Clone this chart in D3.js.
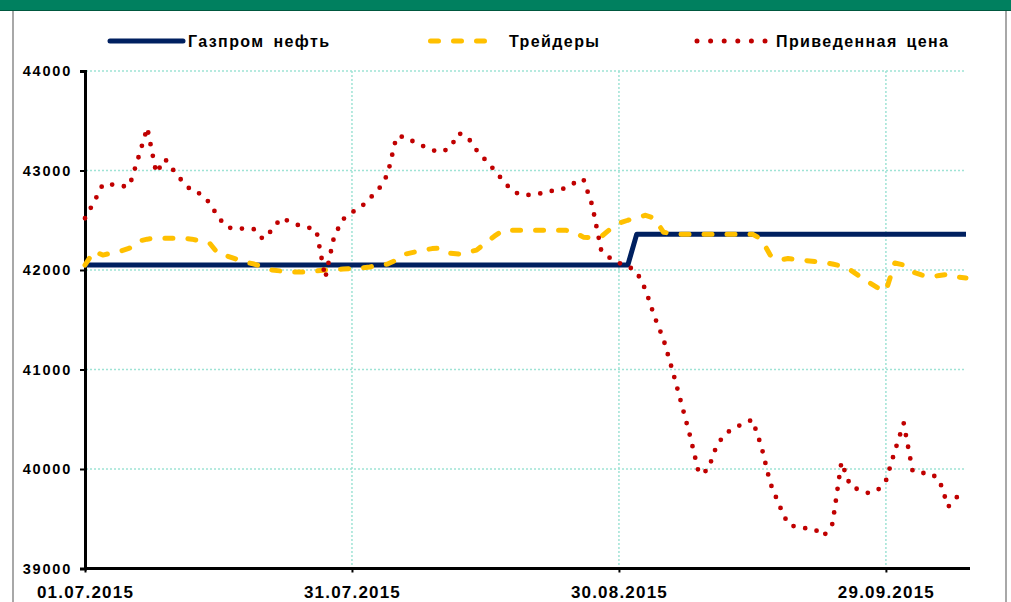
<!DOCTYPE html>
<html lang="ru">
  <head>
    <meta charset="UTF-8" />
    <title>Газпром нефть — Трейдеры — Приведенная цена</title>
    <script src="https://d3js.org/d3.v7.min.js"></script>
    <style>
      body {
        margin: 0;
        padding: 0;
        background: #fff;
      }
      svg {
        display: block;
        font-family: "Liberation Sans", Arial, sans-serif;
        font-weight: bold;
      }
      .tick-label {
        font-size: 14.5px;
        letter-spacing: 1.8px;
        fill: #000;
      }
      .date-label {
        font-size: 17px;
        letter-spacing: 1.2px;
        fill: #000;
      }
      .legend-label {
        font-size: 16px;
        letter-spacing: 1.4px;
        word-spacing: 3px;
        fill: #000;
      }
    </style>
  </head>
  <body>
    <svg width="1011" height="602"></svg>
    <script>
      const width = 1011,
        height = 602;
      const svg = d3.select("svg");

      // daily series starting 01.07.2015
      const startDate = new Date(2015, 6, 1);

      const gazpromNeft = [
        42050, 42050, 42050, 42050, 42050, 42050, 42050, 42050, 42050, 42050,
        42050, 42050, 42050, 42050, 42050, 42050, 42050, 42050, 42050, 42050,
        42050, 42050, 42050, 42050, 42050, 42050, 42050, 42050, 42050, 42050,
        42050, 42050, 42050, 42050, 42050, 42050, 42050, 42050, 42050, 42050,
        42050, 42050, 42050, 42050, 42050, 42050, 42050, 42050, 42050, 42050,
        42050, 42050, 42050, 42050, 42050, 42050, 42050, 42050, 42050, 42050,
        42050, 42050, 42360, 42360, 42360, 42360, 42360, 42360, 42360, 42360,
        42360, 42360, 42360, 42360, 42360, 42360, 42360, 42360, 42360, 42360,
        42360, 42360, 42360, 42360, 42360, 42360, 42360, 42360, 42360, 42360,
        42360, 42360, 42360, 42360, 42360, 42360, 42360, 42360, 42360, 42360,
      ];

      const traders = [
        42050, 42190, 42150, 42170, 42190, 42220, 42290, 42310, 42320, 42320,
        42320, 42320, 42310, 42290, 42270, 42160, 42140, 42110, 42080, 42060,
        42030, 42000, 41990, 41980, 41980, 41980, 41990, 42000, 42005, 42010,
        42015, 42020, 42030, 42050, 42060, 42100, 42160, 42180, 42200, 42215,
        42220, 42170, 42160, 42180, 42200, 42270, 42340, 42400, 42400, 42400,
        42400, 42400, 42400, 42400, 42400, 42380, 42330, 42325, 42335, 42410,
        42470, 42500, 42525, 42550, 42520, 42380, 42365, 42360, 42360, 42360,
        42360, 42360, 42360, 42360, 42360, 42360, 42310, 42150, 42100, 42115,
        42105, 42095, 42085, 42075, 42060, 42040, 42000, 41940, 41880, 41825,
        41790, 42070, 42050, 41980, 41950, 41930, 41945, 41955, 41930, 41920,
      ];

      const reducedPrice = [
        42520, 42680, 42860, 42860, 42840, 42845, 43130, 43430, 42975, 43115,
        42995, 42885, 42795, 42765, 42675, 42525, 42430, 42410, 42420, 42410,
        42310, 42400, 42520, 42490, 42450, 42430, 42400, 41920, 42340, 42510,
        42580, 42630, 42720, 42810, 42960, 43340, 43340, 43285, 43245, 43205,
        43185, 43225, 43375, 43335, 43205, 43105, 43005, 42895, 42795, 42755,
        42755, 42765, 42795, 42795, 42825, 42875, 42915, 42650, 42200, 42120,
        42070, 42040, 41980, 41800, 41530, 41305, 40995, 40665, 40330, 39950,
        39990, 40240, 40360, 40410, 40460, 40495, 40230, 39860, 39640, 39445,
        39415, 39405, 39395, 39325, 39450, 40070, 39830, 39790, 39760, 39780,
        39880, 40180, 40460, 39980, 39960, 39960, 39890, 39620, 39720,
      ];

      const yTicks = [39000, 40000, 41000, 42000, 43000, 44000];
      const xTickDates = [
        new Date(2015, 6, 1),
        new Date(2015, 6, 31),
        new Date(2015, 7, 30),
        new Date(2015, 8, 29),
      ];

      const seriesNames = ["Газпром нефть", "Трейдеры", "Приведенная цена"];

      const toPoints = (values) =>
        values.map((v, i) => ({ date: d3.timeDay.offset(startDate, i), v }));

      // frame
      svg.append("rect").attr("x", 0).attr("y", 0).attr("width", width).attr("height", 10).attr("fill", "#00805f");
      svg.append("line").attr("x1", 0).attr("x2", width).attr("y1", 10.5).attr("y2", 10.5).attr("stroke", "#00583f");
      svg.append("line").attr("x1", 13).attr("x2", 13).attr("y1", 11).attr("y2", height).attr("stroke", "#a8a8a8").attr("stroke-width", 2);
      svg.append("line").attr("x1", 1006).attr("x2", 1006).attr("y1", 11).attr("y2", height).attr("stroke", "#a8a8a8").attr("stroke-width", 2);

      const x = d3
        .scaleTime()
        .domain([startDate, d3.timeDay.offset(startDate, 99)])
        .range([85, 966]);
      const y = d3.scaleLinear().domain([39000, 44000]).range([568.5, 71]);

      const gridColor = "#9fe3d5";

      // horizontal grid
      svg
        .append("g")
        .selectAll("line")
        .data(yTicks.slice(1))
        .join("line")
        .attr("x1", 86)
        .attr("x2", 964)
        .attr("y1", (d) => y(d))
        .attr("y2", (d) => y(d))
        .attr("stroke", gridColor)
        .attr("stroke-width", 1.5)
        .attr("stroke-dasharray", "2,2");

      // vertical grid
      svg
        .append("g")
        .selectAll("line")
        .data(xTickDates.slice(1))
        .join("line")
        .attr("x1", (d) => x(d))
        .attr("x2", (d) => x(d))
        .attr("y1", 71)
        .attr("y2", 567)
        .attr("stroke", gridColor)
        .attr("stroke-width", 1.5)
        .attr("stroke-dasharray", "2,2");

      // axes
      const yAxis = svg
        .append("g")
        .attr("transform", "translate(85,0)")
        .call(d3.axisLeft(y).tickValues(yTicks).tickSize(5).tickPadding(8).tickFormat(d3.format("d")));
      yAxis.select(".domain").attr("stroke", "#000").attr("stroke-width", 3);
      yAxis.selectAll(".tick line").attr("stroke", "#000").attr("stroke-width", 2);
      yAxis.selectAll(".tick text").attr("class", "tick-label").attr("font-size", null).attr("font-family", null);

      const xAxis = svg
        .append("g")
        .attr("transform", "translate(0,568.5)")
        .call(
          d3
            .axisBottom(x)
            .tickValues(xTickDates)
            .tickSize(4)
            .tickPadding(13)
            .tickFormat(d3.timeFormat("%d.%m.%Y"))
        );
      xAxis.select(".domain").attr("stroke", "#000").attr("stroke-width", 3).attr("d", "M84,0H970");
      xAxis.selectAll(".tick line").attr("stroke", "#000").attr("stroke-width", 2);
      xAxis.selectAll(".tick text").attr("class", "date-label").attr("font-size", null).attr("font-family", null);
      yAxis.raise();

      const line = d3
        .line()
        .x((d) => x(d.date))
        .y((d) => y(d.v));

      const styles = [
        { color: "#002060", width: 5, dash: null, cap: "butt" },
        { color: "#ffc000", width: 5, dash: "8,15", cap: "round" },
        { color: "#c00000", width: 4.8, dash: "0,11.9", cap: "round" },
      ];

      [gazpromNeft, traders, reducedPrice].forEach((values, i) => {
        const s = styles[i];
        svg
          .append("path")
          .datum(toPoints(values))
          .attr("fill", "none")
          .attr("stroke", s.color)
          .attr("stroke-width", s.width)
          .attr("stroke-dasharray", s.dash)
          .attr("stroke-linecap", s.cap)
          .attr("stroke-linejoin", "round")
          .attr("d", line);
      });

      // legend
      const legendItems = [
        { x1: 110, x2: 183, tx: 188, dash: null, color: styles[0].color },
        { x1: 430.5, x2: 490, tx: 509, dash: "8,15", color: styles[1].color },
        { x1: 697, x2: 766, tx: 776, dash: "0,13.6", color: styles[2].color },
      ];
      legendItems.forEach((d, i) => {
        svg
          .append("line")
          .attr("x1", d.x1)
          .attr("x2", d.x2)
          .attr("y1", 41)
          .attr("y2", 41)
          .attr("stroke", d.color)
          .attr("stroke-width", 5)
          .attr("stroke-linecap", "round")
          .attr("stroke-dasharray", d.dash);
        svg
          .append("text")
          .attr("class", "legend-label")
          .attr("x", d.tx)
          .attr("y", 47)
          .text(seriesNames[i]);
      });
    </script>
  </body>
</html>
